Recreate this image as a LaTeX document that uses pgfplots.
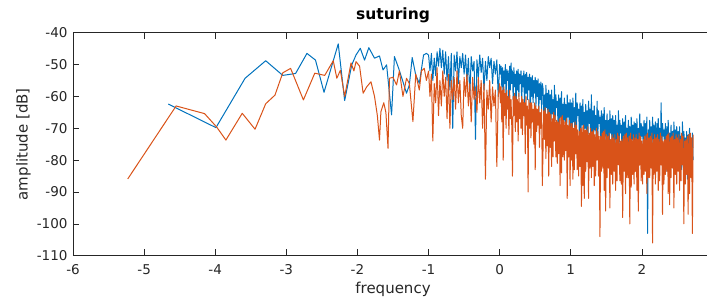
\documentclass[border=0pt]{standalone}
\usepackage{pgfplots}
\pgfplotsset{compat=1.18}
\usepackage{pgfplotstable}
\usepackage{fontspec}
\setmainfont{DejaVu Sans}
\definecolor{mblue}{rgb}{0,0.447,0.741}
\definecolor{morange}{rgb}{0.85,0.325,0.098}
\definecolor{axgray}{rgb}{0.15,0.15,0.15}

\pgfplotstableread{
x b o
-1.00 -47.0 -52
-0.98 -52.0 -60
-0.96 -46.5 -53
-0.94 -55.0 -74
-0.92 -48.0 -56
-0.90 -53.5 -62
-0.88 -46.0 -51
-0.86 -50.5 -66
-0.84 -44.9 -55
-0.82 -51.0 -63
-0.80 -45.5 -52
-0.78 -53.0 -60
-0.76 -46.0 -54
-0.74 -55.0 -67
-0.72 -47.5 -53
-0.70 -58.0 -70
-0.68 -46.5 -55
-0.66 -70.0 -61
-0.64 -47.0 -54
-0.62 -52.0 -64
-0.60 -46.0 -52
-0.58 -56.0 -62
-0.56 -47.5 -55
-0.54 -51.0 -66
-0.52 -46.5 -70
-0.50 -53.0 -54
-0.48 -47.0 -60
-0.46 -55.0 -53
-0.44 -48.0 -63
-0.42 -60.0 -56
-0.40 -47.5 -68
-0.38 -52.0 -54
-0.36 -49.0 -61
-0.34 -73.5 -57
-0.32 -48.5 -65
-0.30 -54.0 -54
-0.28 -47.0 -62
-0.26 -52.5 -55
-0.24 -48.0 -70
-0.22 -58.0 -56
-0.20 -49.0 -86
-0.18 -55.0 -58
-0.16 -47.5 -64
-0.14 -51.0 -55
-0.12 -48.0 -68
-0.10 -56.0 -57
-0.08 -49.0 -63
-0.06 -53.0 -58
-0.04 -48.5 -82
-0.02 -60.0 -60
0.00 -50.0 -56
0.01 -53 -62
0.02 -50.5 -57
0.03 -57 -68
0.04 -51 -58
0.05 -62 -80
0.06 -52 -57
0.07 -56 -66
0.08 -50 -59
0.09 -60 -70
0.10 -51.5 -58
0.11 -55 -64
0.12 -52 -60
0.13 -63 -72
0.14 -50.5 -58
0.15 -58 -67
0.16 -49.5 -61
0.17 -56 -69
0.18 -52 -85
0.19 -61 -60
0.20 -51 -66
0.21 -57 -59
0.22 -53 -71
0.23 -66 -60
0.24 -52 -68
0.25 -58 -61
0.26 -51.5 -74
0.27 -60 -59
0.28 -53 -67
0.29 -56 -62
0.30 -52 -70
0.31 -62 -60
0.32 -53.5 -72
0.33 -57 -61
0.34 -52 -66
0.35 -64 -62
0.36 -53 -78
0.37 -59 -60
0.38 -52.5 -69
0.39 -61 -63
0.40 -54 -90
0.41 -58 -61
0.42 -53 -70
0.43 -67 -62
0.44 -54 -73
0.45 -60 -62
0.46 -53.5 -68
0.47 -62 -64
0.48 -55 -75
0.49 -59 -62
0.50 -54 -83
0.51 -63 -63
0.52 -55 -71
0.53 -60 -64
0.54 -54.5 -69
0.55 -65 -63
0.56 -56 -76
0.57 -61 -65
0.58 -55.5 -70
0.59 -64 -64
0.60 -56 -88
0.61 -57.5 -76.5
0.62 -65.5 -64.5
0.63 -59.5 -73.5
0.64 -69.5 -63.5
0.65 -56.5 -79.5
0.66 -63.5 -65.5
0.67 -59 -75.5
0.68 -67.5 -64
0.69 -58 -85
0.70 -71.5 -65
0.71 -59.5 -76
0.72 -69.5 -65.5
0.73 -58 -82
0.74 -65.5 -67
0.75 -61 -79
0.76 -71.5 -65
0.77 -56.5 -74
0.78 -67.5 -66
0.79 -59.5 -79
0.80 -63.5 -67.5
0.81 -61.5 -81
0.82 -68.5 -68
0.83 -59.5 -78
0.84 -74.5 -67
0.85 -60.5 -88
0.86 -66.5 -66.5
0.87 -58.5 -84
0.88 -70.5 -66
0.89 -62.5 -79
0.90 -67.5 -67.5
0.91 -60.5 -80
0.92 -68.5 -68
0.93 -62.5 -77
0.94 -72.5 -67
0.95 -59.5 -92
0.96 -66.5 -69
0.97 -62 -79
0.98 -70.5 -67.5
0.99 -61 -88
1.00 -74.5 -68.5
1.01 -62 -80
1.02 -72 -68.5
1.03 -60.5 -86
1.04 -68 -70
1.05 -63.5 -83
1.06 -74 -68
1.07 -59 -78
1.08 -70 -69
1.09 -62 -83
1.10 -66 -70.5
1.11 -64 -85
1.12 -71 -71
1.13 -62 -82
1.14 -77 -70
1.15 -63 -94.5
1.16 -69 -69.5
1.17 -61 -88
1.18 -73 -69
1.19 -65 -92
1.20 -70 -70.5
1.21 -62.5 -83.5
1.22 -70.5 -70.5
1.23 -64.5 -80.5
1.24 -74.5 -69.5
1.25 -61.5 -92
1.26 -68.5 -71.5
1.27 -64 -82.5
1.28 -72.5 -70
1.29 -59.5 -85.5
1.30 -76.5 -71
1.31 -64.5 -82
1.32 -74.5 -70.5
1.33 -63 -88
1.34 -70.5 -72
1.35 -66 -85
1.36 -76.5 -70
1.37 -61.5 -80
1.38 -72.5 -71
1.39 -64.5 -85
1.40 -68.5 -72.5
1.41 -66.5 -104
1.42 -73.5 -72.5
1.43 -64.5 -83.5
1.44 -79.5 -71.5
1.45 -65.5 -82.5
1.46 -71.5 -71
1.47 -63.5 -89.5
1.48 -75.5 -70.5
1.49 -67.5 -96
1.50 -72.5 -72
1.51 -65.5 -85.5
1.52 -73.5 -72.5
1.53 -67.5 -82.5
1.54 -77.5 -71.5
1.55 -64.5 -95
1.56 -71.5 -73.5
1.57 -67 -84.5
1.58 -75.5 -72
1.59 -66 -87.5
1.60 -79.5 -73
1.61 -67.5 -83.5
1.62 -77.5 -72
1.63 -66 -89.5
1.64 -73.5 -73.5
1.65 -69 -86.5
1.66 -79.5 -71.5
1.67 -64.5 -81.5
1.68 -75.5 -72.5
1.69 -67.5 -86.5
1.70 -71.5 -74
1.71 -69 -87.5
1.72 -76 -73.5
1.73 -67 -98
1.74 -82 -72.5
1.75 -68 -83.5
1.76 -74 -72
1.77 -66 -90.5
1.78 -78 -71.5
1.79 -70 -85.5
1.80 -75 -73
1.81 -67.5 -85.5
1.82 -75.5 -72.5
1.83 -69.5 -100
1.84 -79.5 -71.5
1.85 -66.5 -88.5
1.86 -73.5 -73.5
1.87 -69 -84.5
1.88 -77.5 -72
1.89 -68 -87.5
1.90 -81.5 -73
1.91 -68.5 -83.5
1.92 -78.5 -72
1.93 -67 -89.5
1.94 -74.5 -73.5
1.95 -70 -96
1.96 -80.5 -71.5
1.97 -65.5 -81.5
1.98 -76.5 -72.5
1.99 -68.5 -86.5
2.00 -72.5 -74
2.01 -69.5 -87.5
2.02 -76.5 -73.5
2.03 -67.5 -84.5
2.04 -82.5 -72.5
2.05 -68.5 -83.5
2.06 -74.5 -72
2.07 -66.5 -90.5
2.08 -103 -71.5
2.09 -70.5 -85.5
2.10 -75.5 -73
2.11 -67.5 -85.5
2.12 -75.5 -72.5
2.13 -69.5 -82.5
2.14 -79.5 -71.5
2.15 -66.5 -106
2.16 -73.5 -73.5
2.17 -69 -84.5
2.18 -77.5 -72
2.19 -68 -87.5
2.20 -81.5 -73
2.21 -68.5 -83.5
2.22 -78.5 -72
2.23 -67 -89.5
2.24 -74.5 -73.5
2.25 -70 -86.5
2.26 -80.5 -71.5
2.27 -62 -81.5
2.28 -76.5 -72.5
2.29 -68.5 -97
2.30 -72.5 -74
2.31 -70.5 -87.5
2.32 -77.5 -73.5
2.33 -68.5 -84.5
2.34 -83.5 -72.5
2.35 -69.5 -83.5
2.36 -75.5 -72
2.37 -67.5 -90.5
2.38 -79.5 -71.5
2.39 -71.5 -94
2.40 -76.5 -73
2.41 -69 -85.5
2.42 -77 -72.5
2.43 -71 -82.5
2.44 -81 -71.5
2.45 -68 -95
2.46 -75 -73.5
2.47 -70.5 -84.5
2.48 -79 -72
2.49 -69.5 -87.5
2.50 -83 -73
2.51 -71 -83.5
2.52 -81 -72
2.53 -69.5 -89.5
2.54 -77 -73.5
2.55 -72.5 -86.5
2.56 -83 -71.5
2.57 -68 -81.5
2.58 -79 -72.5
2.59 -71 -100
2.60 -75 -74
2.61 -73 -87.5
2.62 -80 -73.5
2.63 -71 -84.5
2.64 -86 -72.5
2.65 -72 -97
2.66 -78 -72
2.67 -70 -90.5
2.68 -82 -71.5
2.69 -74 -85.5
2.70 -79 -73
2.71 -71.5 -103
2.72 -80 -72
}\dense

\begin{document}
\begin{tikzpicture}
\begin{axis}[
  scale only axis,
  width=640bp, height=223bp,
  xmin=-6, xmax=3, ymin=-110, ymax=-40,
  xtick={-6,-5,...,2},
  ytick={-110,-100,...,-40},
  tick align=inside,
  major tick length=6.5bp,
  axis line style={color=axgray, line width=0.6bp},
  every tick/.style={color=axgray, line width=0.6bp},
  /pgf/number format/assume math mode=true,
  tick label style={font=\fontsize{13.5bp}{16bp}\selectfont, text=axgray},
  x tick label style={anchor=base, yshift=-18.5bp},
  y tick label style={anchor=east, xshift=-2bp},
  title={\textbf{suturing}},
  title style={at={(axis description cs:0.5,1)}, anchor=base, yshift=7.7bp, font=\fontsize{15.5bp}{18bp}\selectfont, text=black},
  xlabel={frequency},
  ylabel={amplitude [dB]},
  xlabel style={at={(axis description cs:0.5,-0.151)}, anchor=center, font=\fontsize{15bp}{18bp}\selectfont, text=axgray},
  ylabel style={at={(axis description cs:-0.0773,0.5)}, anchor=center, font=\fontsize{15bp}{18bp}\selectfont, text=axgray},
  every axis plot/.append style={line width=1bp, line join=round},
]
\addplot[mblue] coordinates {(-4.66,-62.4) (-3.99,-69.8) (-3.58,-54.3) (-3.29,-48.8) (-3.05,-53.4) (-2.87,-52.8) (-2.71,-46.5) (-2.59,-48.6) (-2.47,-58.7) (-2.27,-43.5) (-2.18,-61.3) (-2.08,-50.1) (-2.02,-47) (-1.96,-44.9) (-1.90,-48.6) (-1.84,-44.7) (-1.76,-48) (-1.69,-47.3) (-1.64,-51.7) (-1.59,-50.1) (-1.52,-65.8) (-1.48,-47.5) (-1.42,-51.2) (-1.36,-55.4) (-1.31,-59) (-1.27,-56.4) (-1.23,-47.8) (-1.18,-53.3) (-1.13,-55.9) (-1.07,-47) (-1.03,-46.5) (-1.00,-47)};
\addplot[mblue] table[x=x, y=b] {\dense};
\addplot[morange] coordinates {(-5.23,-85.9) (-4.55,-63) (-4.15,-65.4) (-3.98,-69.6) (-3.85,-73.7) (-3.62,-65.3) (-3.44,-70.3) (-3.29,-62.3) (-3.16,-59.6) (-3.05,-52.6) (-2.94,-51.2) (-2.76,-61.1) (-2.60,-52.7) (-2.46,-53.4) (-2.34,-48.8) (-2.29,-54.3) (-2.24,-51.8) (-2.18,-60) (-2.09,-49.5) (-2.05,-52) (-2.02,-49.1) (-1.97,-50.5) (-1.92,-59) (-1.87,-57) (-1.81,-55.4) (-1.76,-60) (-1.72,-66) (-1.69,-73.7) (-1.67,-64.8) (-1.63,-62) (-1.60,-65) (-1.57,-76.3) (-1.55,-54.3) (-1.50,-54) (-1.45,-56.4) (-1.41,-52) (-1.36,-60) (-1.31,-54.3) (-1.27,-56) (-1.22,-67.9) (-1.18,-53) (-1.13,-58) (-1.10,-52) (-1.06,-51.2) (-1.03,-55) (-1.00,-52)};
\addplot[morange] table[x=x, y=o] {\dense};
\coordinate (SW) at (rel axis cs:0,0);
\coordinate (NE) at (rel axis cs:1,1);
\end{axis}
\pgfresetboundingbox
\path ([xshift=-73bp,yshift=-42.3bp]SW) rectangle ([xshift=-6bp,yshift=32.7bp]NE);
\end{tikzpicture}
\end{document}
